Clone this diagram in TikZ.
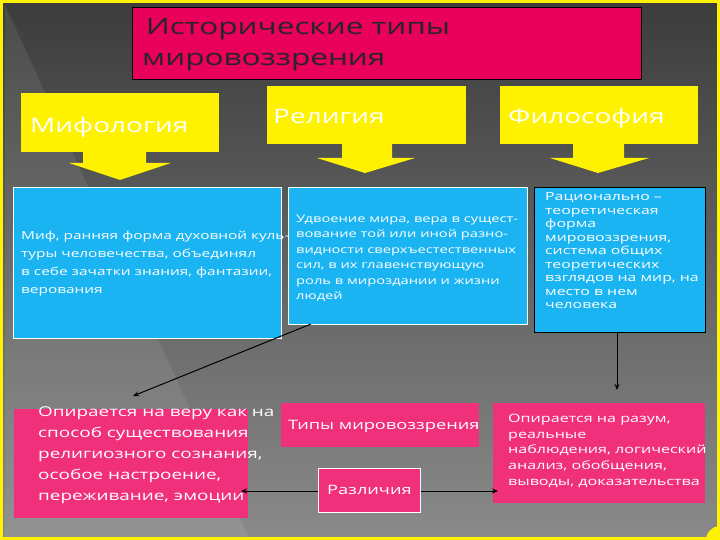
\documentclass[tikz,border=0pt]{standalone}
\usepackage{fontspec}
\setmainfont[FakeStretch=1.4]{Open Sans}
\usetikzlibrary{arrows.meta}
\definecolor{pinkT}{HTML}{E8005A}
\definecolor{pinkB}{HTML}{F0307A}
\definecolor{blueB}{HTML}{1AB4F2}
\definecolor{bgA}{HTML}{3C3C3C}
\definecolor{bgB}{HTML}{8A8A8A}
\tikzset{
  ybox/.style={fill=yellow, draw=none, inner sep=0pt, anchor=north west},
  ylab/.style={text=white, font=\fontsize{20}{22}\selectfont, anchor=west, inner sep=0pt},
  bbox/.style={fill=blueB, draw=white, line width=0.8pt, anchor=north west, inner sep=0pt},
  btext/.style={text=white, align=left, font=\fontsize{11}{18}\selectfont, anchor=west, inner sep=0pt},
  ptext/.style={text=white, align=left, font=\fontsize{13.5}{21}\selectfont, anchor=north west, inner sep=0pt},
  arr/.style={-{Stealth[length=6pt,width=5pt]}, line width=1pt, black}
}
\begin{document}
\begin{tikzpicture}[x=1pt,y=-1pt]
\useasboundingbox (0,0) rectangle (720,540);
\shade[top color=bgA, bottom color=bgB] (0,0) rectangle (720,540);
\fill[white,opacity=0.08] (5,5) -- (250,540) -- (5,540) -- cycle;
\draw[yellow, line width=3pt] (1.5,1.5) rectangle (718.5,538.5);
% title
\node[fill=pinkT, draw=black, line width=0.6pt, minimum width=509pt, minimum height=72pt, anchor=north west, inner sep=0pt] (title) at (132,7) {};
\node[anchor=north west, inner sep=0pt, align=left, font=\fontsize{22.5}{31}\selectfont, text=black!85] (tt) at (142,18) {\,Исторические типы\\мировоззрения};
% yellow boxes
\node[ybox, minimum width=198pt, minimum height=59pt] (my) at (21,93) {};
\node[ylab] at (30,127) {Мифология};
\node[ybox, minimum width=199pt, minimum height=58pt] (re) at (267,86) {};
\node[ylab] at (273,116) {Религия};
\node[ybox, minimum width=198pt, minimum height=58pt] (ph) at (500,86) {};
\node[ylab] at (508,118) {Философия};
\fill[yellow] (83,152) -- (146,152) -- (146,163) -- (171,163) -- (120,180) -- (69,163) -- (83,163) -- cycle;
\fill[yellow] (342,144) -- (392,144) -- (392,158) -- (415,158) -- (365,173) -- (317,158) -- (342,158) -- cycle;
\fill[yellow] (573,144) -- (624,144) -- (624,158) -- (649,158) -- (598,173) -- (550,158) -- (573,158) -- cycle;
% blue boxes
\node[bbox, minimum width=268pt, minimum height=151pt] (b1) at (13,187) {};
\node[btext] at (21,264) {Миф, ранняя форма духовной куль-\\туры человечества, объединял\\в себе зачатки знания, фантазии,\\верования};
\node[bbox, minimum width=239pt, minimum height=137pt] (b2) at (288,187) {};
\node[btext, font=\fontsize{10.5}{15.5}\selectfont] at (296,258) {Удвоение мира, вера в сущест-\\вование той или иной разно-\\видности сверхъестественных\\сил, в их главенствующую\\роль в мироздании и жизни\\людей};
\node[bbox, draw=black, minimum width=171pt, minimum height=145pt] (b3) at (534,187) {};
\node[btext, font=\fontsize{11.3}{13.5}\selectfont] at (545,251) {Рационально –\\теоретическая\\форма\\мировоззрения,\\система общих\\теоретических\\взглядов на мир, на\\место в нем\\человека};
% pink lower
\node[fill=pinkB, minimum width=234pt, minimum height=109pt, anchor=north west, inner sep=0pt] (p1) at (14,409) {};
\node[ptext] at (38,407) {Опирается на веру как на\\способ существования\\религиозного сознания,\\особое настроение,\\переживание, эмоции};
\node[fill=pinkB, minimum width=198pt, minimum height=44pt, anchor=north west, inner sep=0pt] (p2) at (281,403) {};
\node[text=white, font=\fontsize{13}{17}\selectfont, anchor=west, inner sep=0pt] at (288,426) {Типы мировоззрения};
\node[fill=pinkB, minimum width=212pt, minimum height=100pt, anchor=north west, inner sep=0pt] (p3) at (493,403) {};
\node[ptext, font=\fontsize{11.5}{15.7}\selectfont] at (508,414) {Опирается на разум,\\реальные\\наблюдения, логический\\анализ, обобщения,\\выводы, доказательства};
\node[fill=pinkB, draw=white, line width=0.8pt, minimum width=102pt, minimum height=44pt, anchor=north west, inner sep=0pt] (diff) at (318,468) {};
\node[text=white, font=\fontsize{13}{17}\selectfont] at (diff.center) {Различия};
% arrows
\coordinate (a1s) at (311,324); \coordinate (a1e) at (133,396);
\draw[arr] (a1s) -- (a1e);
\coordinate (a2s) at (617,332); \coordinate (a2e) at (617,390);
\draw[arr] (a2s) -- (a2e);
\coordinate (a3e) at (241,491); \coordinate (a4e) at (498,491);
\draw[arr] (diff.west |- a3e) -- (a3e);
\draw[arr] (diff.east |- a4e) -- (a4e);
\fill[yellow] (720,540) circle (14pt);
\end{tikzpicture}
\end{document}
